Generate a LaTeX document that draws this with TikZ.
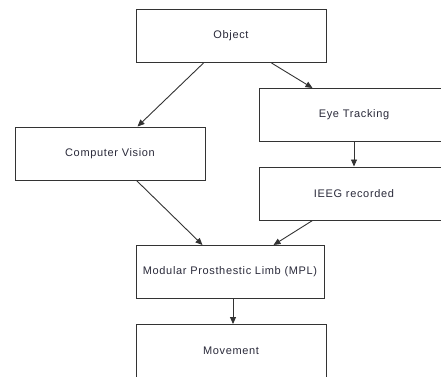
\documentclass[tikz,border=0pt]{standalone}
\usepackage{fontspec}
\setmainfont{Liberation Sans}[LetterSpace=6]
\usetikzlibrary{arrows.meta}
\definecolor{linec}{HTML}{333333}
\definecolor{textc}{HTML}{2A2A3A}
\begin{document}
\begin{tikzpicture}[x=1pt,y=-1pt,
  box/.style={draw=linec,line width=1pt,fill=white,minimum width=190pt,minimum height=53pt,inner sep=0pt,
    font=\fontsize{11}{13}\selectfont,text=textc},
  arr/.style={draw=linec,line width=0.9pt,-{Triangle[length=7pt,width=6pt]}}]
\useasboundingbox (0,0) rectangle (441,376);
\clip (0,0) rectangle (441,376);
\node[box] (obj) at (231,36) {Object};
\node[box] (eye) at (354,115) {Eye Tracking};
\node[box] (ieeg) at (354,193.5) {IEEG recorded};
\node[box] (cv) at (110,153.5) {Computer Vision};
\node[box,minimum width=188pt] (mpl) at (230,272) {Modular Prosthestic Limb (MPL)};
\node[box] (mov) at (231,351) {Movement};
\draw[arr] ([xshift=68pt]obj.south west) -- ([xshift=123pt]cv.north west);
\draw[arr] ([xshift=136pt]obj.south west) -- ([xshift=54pt]eye.north west);
\draw[arr] (eye.south) -- (ieeg.north);
\draw[arr] ([xshift=122pt]cv.south west) -- ([xshift=67pt]mpl.north west);
\draw[arr] ([xshift=54pt]ieeg.south west) -- ([xshift=138pt]mpl.north west);
\draw[arr] ([xshift=3pt]mpl.south) -- ([xshift=2pt]mov.north);
\end{tikzpicture}
\end{document}
